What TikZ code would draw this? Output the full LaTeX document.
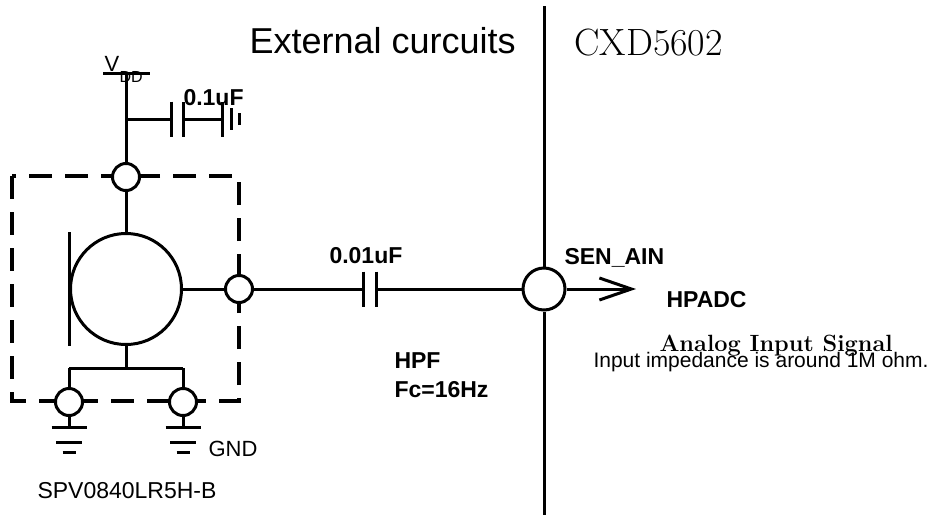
\documentclass[tikz,border=0pt]{standalone}
\usepackage{fontspec}
\setsansfont{Liberation Sans}
\usetikzlibrary{arrows.meta}
\begin{document}
\begin{tikzpicture}[x=1pt,y=-1pt,line width=3pt,
        pin/.style={circle,draw,fill=white,minimum size=27pt,inner sep=0pt},
        lbl/.style={anchor=base west,inner sep=0pt,font=\sffamily\bfseries\fontsize{23}{26}\selectfont},
        txt/.style={anchor=base west,inner sep=0pt,font=\sffamily\fontsize{22}{25}\selectfont}]
            \useasboundingbox (0,0) rectangle (933,517);
            \def \pl {17.5}
            % package outline
            \draw[line width=4pt,dash pattern=on 23pt off 13pt] (12,176) rectangle (239,401);
            \coordinate (divtop) at (544,6);
            \coordinate (divbot) at (544,515);
            \coordinate (vdd) at (126,73);
            \coordinate (vddl) at (103,73);
            \coordinate (vddr) at (150,73);
            \coordinate (j1) at (126,119);
            \coordinate (c1l) at (171,119);
            \coordinate (c1r) at (183,119);
            \coordinate (g1) at (222,119);
            \coordinate (c2l) at (363,289);
            \coordinate (c2r) at (376,289);
            \coordinate (tip) at (636,289);
            \coordinate (split) at (126,368);
            \coordinate (spla) at (69,368);
            \coordinate (splb) at (183,368);
            \node[circle,draw,minimum size=111pt,inner sep=0pt] (mic) at (126,289) {};
            \node[pin] (vddpin) at (126,177) {};
            \node[pin] (out) at (239,289) {};
            \node[pin] (gnda) at (69,402) {};
            \node[pin] (gndb) at (183,402) {};
            \node[pin,minimum size=42pt] (sen) at (544,289) {};
            \draw (divtop) -- (sen);
            \draw (sen) -- (divbot);
            \draw (vddl) -- (vddr);
            \draw (vdd) -- (vddpin);
            \draw (j1) -- (c1l);
            \draw (c1r) -- (g1);
            \draw (vddpin) -- (mic);
            \draw (mic) -- (out);
            \draw (out) -- (c2l);
            \draw (c2r) -- (sen);
            \draw[-{Straight Barb[length=32pt,width=22pt]}] (sen) -- (tip);
            \draw (mic) -- (split);
            \draw (spla) -- (splb);
            \draw (spla) -- (gnda);
            \draw (splb) -- (gndb);
            \draw ([yshift=57pt]mic.west) -- ([yshift=-57pt]mic.west);
            % capacitor plates
            \foreach \c in {c1l,c1r,c2l,c2r}
                \draw ([yshift=\pl pt]\c) -- ([yshift=-\pl pt]\c);
            \foreach \dx/\h in {0/17.5,9/11,17/6}
                \draw ([xshift=\dx pt,yshift=\h pt]g1) -- ([xshift=\dx pt,yshift=-\h pt]g1);
            \foreach \p in {gnda,gndb} {
                \draw (\p.south) -- ++(0,10.5) coordinate (\p-g);
                \foreach \dy/\w in {0/17.5,15/13,25/6.5}
                    \draw ([shift={(-\w,\dy)}]\p-g) -- ([shift={(\w,\dy)}]\p-g);
            }
            \node[anchor=base west,inner sep=0pt,font=\sffamily\fontsize{36}{40}\selectfont] (ext) at (248,53) {External curcuits};
            \node[anchor=base west,inner sep=0pt,font=\fontsize{38}{42}\selectfont] (chip) at (573,55) {CXD5602};
            \node[txt] (vlbl) at (103,71) {V};
            \node[txt,font=\sffamily\fontsize{16}{18}\selectfont] (ddlbl) at (118,82) {DD};
            \node[lbl] (c1lbl) at (182,105) {0.1uF};
            \node[lbl] (c2lbl) at (328,263) {0.01uF};
            \node[lbl] (senlbl) at (563,264) {SEN\_AIN};
            \node[lbl] (hpadc) at (665,307) {HPADC};
            \node[lbl] (hpf) at (393,368) {HPF};
            \node[lbl] (fc) at (393,397) {Fc=16Hz};
            \node[anchor=base west,inner sep=0pt,font=\bfseries\fontsize{23.5}{26}\selectfont] (ana) at (658,351) {Analog Input Signal};
            \node[txt,font=\sffamily\fontsize{21}{24}\selectfont] (imp) at (592,367) {Input impedance is around 1M ohm.};
            \node[txt] (gndlbl) at (207,456) {GND};
            \node[txt,font=\sffamily\fontsize{23}{26}\selectfont] (part) at (36,498) {SPV0840LR5H-B};
        \end{tikzpicture}
\end{document}
